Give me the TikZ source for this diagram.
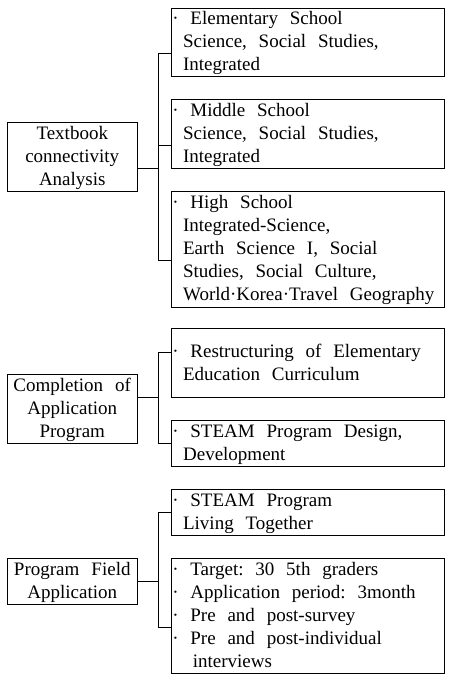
\documentclass[tikz,border=0pt]{standalone}
\usepackage{fontspec}
\setmainfont{Liberation Serif}

\tikzstyle{lbox} = [draw, line width=0.8pt, anchor=north west, inner xsep=1pt, inner ysep=0pt, minimum width=130.3pt, text width=128.3pt, align=center]
\tikzstyle{rbox} = [draw, line width=0.8pt, anchor=north west, inner xsep=1.2pt, inner ysep=0pt, minimum width=273.6pt, text width=271.2pt, align=left]
\tikzstyle{link} = [line width=0.8pt]

\newcommand{\ls}{\rule[-4pt]{0pt}{19pt}}
\newcommand{\ind}{\hspace*{10.8pt}}
\newcommand{\wide}{\spaceskip=11.8pt plus 2pt minus 1pt\xspaceskip=11.8pt plus 2pt minus 1pt\relax}

\begin{document}
\begin{tikzpicture}[x=1pt, y=-1pt,
  every node/.style={font=\fontsize{19}{23}\selectfont,
    execute at begin node={\wide\ls}, execute at end node=\ls}]
  \useasboundingbox (0,0) rectangle (452,680);

  % textbook analysis
  \node (txt) at (6.7,122.3) [lbox, minimum height=69pt] {Textbook\\connectivity\\Analysis};
  \node (ele) at (170.7,7.7) [rbox, minimum height=68.3pt] {· Elementary School\\\ind Science, Social Studies,\\\ind Integrated};
  \node (mid) at (170.7,99.3) [rbox, minimum height=68.7pt] {· Middle School\\\ind Science, Social Studies,\\\ind Integrated};
  \node (hig) at (170.7,191.3) [rbox, minimum height=115.4pt] {· High School\\\ind Integrated-Science,\\\ind Earth Science I, Social\\\ind Studies, Social Culture,\\\ind World·Korea·Travel Geography};

  % application program
  \node (cmp) at (6.7,374.3) [lbox, minimum height=69pt] {Completion of\\Application\\Program};
  \node (res) at (170.7,328.3) [rbox, minimum height=69pt] {· Restructuring of Elementary\\\ind Education Curriculum};
  \node (stm) at (170.7,420.3) [rbox, minimum height=45.7pt] {· STEAM Program Design,\\\ind Development};

  % field application
  \node (fld) at (6.7,558.3) [lbox, minimum height=46pt] {Program Field\\Application};
  \node (liv) at (170.7,489.3) [rbox, minimum height=45.7pt] {· STEAM Program\\\ind Living Together};
  \node (tgt) at (170.7,558.3) [rbox, minimum height=114.4pt] {· Target: 30 5th graders\\· Application period: 3month\\· Pre and post-survey\\· Pre and post-individual\\\hspace*{20.5pt}interviews};

  \coordinate (j1) at ([shift={(20.3pt,-11.5pt)}]txt.east);
  \coordinate (j2) at ([shift={(20.3pt,11.5pt)}]cmp.east);
  \coordinate (j3) at ([xshift=20.3pt]fld.east);

  \draw [link] (txt.east |- j1) -- (j1);
  \draw [link] ([yshift=-10.9pt]ele.west) -| (j1) |- ([yshift=-11pt]hig.west);
  \draw [link] ([yshift=-11.6pt]mid.west) -| (j1);

  \draw [link] (cmp.east |- j2) -- (j2);
  \draw [link] ([yshift=10.5pt]res.west) -| (j2) |- (stm.west);

  \draw [link] (fld.east) -- (j3);
  \draw [link] (liv.west) -| (j3) |- ([yshift=-11.8pt]tgt.west);
\end{tikzpicture}
\end{document}
